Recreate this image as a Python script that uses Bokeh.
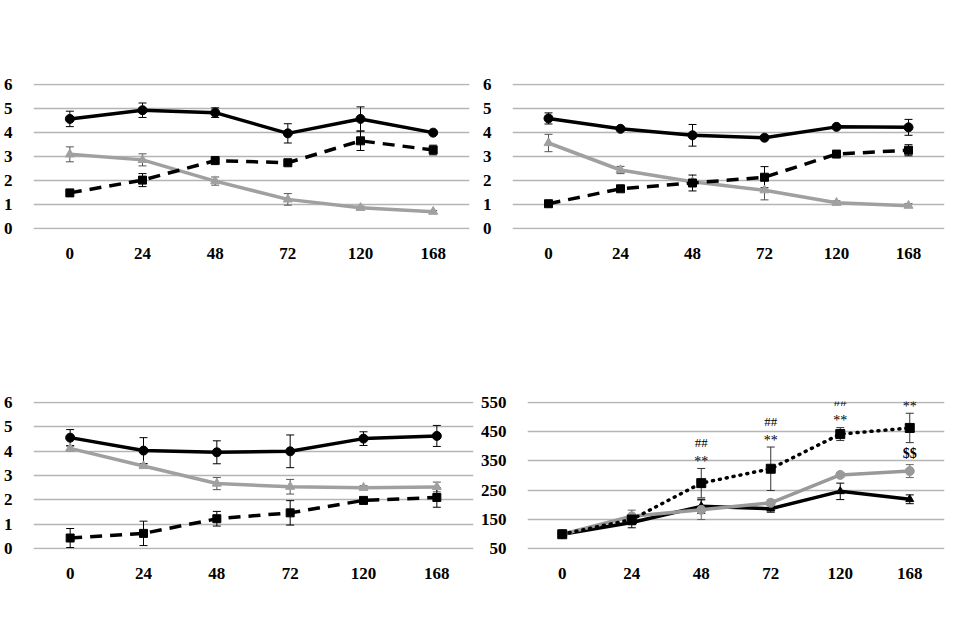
from bokeh.plotting import figure
from bokeh.models import (FactorRange, FixedTicker, Label, LabelSet, Legend, LegendItem,
                          Whisker, TeeHead, ColumnDataSource, Range1d)
from bokeh.layouts import column, row
from bokeh.embed import file_html
from bokeh.resources import INLINE

hours = ["0", "24", "48", "72", "120", "168"]
mass_ticks = [0, 1, 2, 3, 4, 5, 6]
rate_ticks = [50, 150, 250, 350, 450, 550]

# Panel A: PVL-70%
a_lek = [3.09, 2.86, 1.98, 1.22, 0.87, 0.71]
a_lek_err = [0.31, 0.25, 0.17, 0.24, 0.07, 0.05]
a_nem = [1.49, 2.02, 2.83, 2.74, 3.65, 3.27]
a_nem_err = [0.05, 0.27, 0.07, 0.07, 0.40, 0.20]
a_tel = [4.56, 4.92, 4.82, 3.96, 4.56, 3.99]
a_tel_err = [0.32, 0.30, 0.20, 0.40, 0.50, 0.05]

# Panel B: PVL-80%
b_lek = [3.56, 2.44, 1.95, 1.60, 1.08, 0.96]
b_lek_err = [0.36, 0.15, 0.10, 0.40, 0.08, 0.08]
b_nem = [1.04, 1.66, 1.90, 2.14, 3.10, 3.26]
b_nem_err = [0.05, 0.10, 0.33, 0.44, 0.05, 0.23]
b_tel = [4.58, 4.15, 3.88, 3.78, 4.23, 4.21]
b_tel_err = [0.23, 0.05, 0.45, 0.05, 0.07, 0.33]

# Panel C: PVL-90%
c_lek = [4.11, 3.39, 2.67, 2.54, 2.50, 2.53]
c_lek_err = [0.10, 0.08, 0.25, 0.30, 0.08, 0.20]
c_nem = [0.44, 0.63, 1.23, 1.47, 1.98, 2.10]
c_nem_err = [0.39, 0.50, 0.30, 0.50, 0.10, 0.40]
c_tel = [4.55, 4.02, 3.95, 3.99, 4.51, 4.62]
c_tel_err = [0.33, 0.53, 0.47, 0.67, 0.28, 0.43]

# Panel D: regeneration rate (%)
d_70 = [100, 140, 195, 187, 246, 219]
d_70_err = [3, 18, 24, 12, 28, 15]
d_80 = [100, 161, 183, 207, 302, 315]
d_80_err = [3, 21, 33, 10, 8, 22]
d_90 = [100, 150, 274, 323, 441, 462]
d_90_err = [3, 10, 50, 74, 22, 50]
sig_hours = ["48", "72", "120", "168"]
sig_stars = ["**", "**", "**", "**"]
sig_hash = ["##", "##", "##", "##"]
dollar_hours = ["168"]
dollar_text = ["$$"]

SERIF = "Liberation Serif"
GRAY = "#a0a0a0"
GRID = "#b5b5b5"


def base_fig(width, height, bl, br, bt, bb, y0, y1, ticks):
    p = figure(width=width, height=height, x_range=FactorRange(*hours),
               y_range=Range1d(y0, y1), output_backend="svg", toolbar_location=None,
               min_border_left=bl, min_border_right=br, min_border_top=bt,
               min_border_bottom=bb, outline_line_color=None)
    tk = FixedTicker(ticks=ticks)
    p.yaxis.ticker = tk
    p.ygrid.ticker = tk
    p.xgrid.grid_line_color = None
    p.ygrid.grid_line_color = GRID
    p.ygrid.grid_line_width = 1.5
    for ax in (p.xaxis, p.yaxis):
        ax.axis_line_color = None
        ax.major_tick_line_color = None
        ax.minor_tick_line_color = None
        ax.major_label_text_font = SERIF
        ax.major_label_text_font_style = "bold"
        ax.major_label_text_font_size = "17px"
        ax.major_label_text_color = "black"
    p.xaxis.major_label_standoff = 12
    p.yaxis.major_label_standoff = 15
    return p


def whisk(p, vals, errs, color):
    src = ColumnDataSource(dict(x=hours, up=[v + e for v, e in zip(vals, errs)],
                                lo=[v - e for v, e in zip(vals, errs)]))
    w = Whisker(source=src, base="x", upper="up", lower="lo", line_color=color, line_width=1,
                upper_head=TeeHead(size=8, line_color=color, line_width=1),
                lower_head=TeeHead(size=8, line_color=color, line_width=1))
    p.add_layout(w)


def txt(p, text, x, y, size, align="center", font=SERIF, style="bold"):
    p.add_layout(Label(x=x, y=y, x_units="screen", y_units="screen", text=text,
                       text_font=font, text_font_style=style, text_font_size=size,
                       text_align=align, text_baseline="middle", text_color="black"))


def mass_panel(width, height, bl, br, bt, bb, lek, lek_e, nem, nem_e, tel, tel_e,
               letter, title, geo):
    p = base_fig(width, height, bl, br, bt, bb, -0.03, 6.03, mass_ticks)
    whisk(p, lek, lek_e, "#555555")
    whisk(p, nem, nem_e, "black")
    whisk(p, tel, tel_e, "black")
    l1 = p.line(hours, lek, line_color=GRAY, line_width=3.5)
    m1 = p.scatter(hours, lek, marker="triangle", size=9, color=GRAY)
    l2 = p.line(hours, nem, line_color="black", line_width=3.5, line_dash="12 8")
    m2 = p.scatter(hours, nem, marker="square", size=8, color="black")
    l3 = p.line(hours, tel, line_color="black", line_width=3.5)
    m3 = p.scatter(hours, tel, marker="circle", size=9, color="black")
    lx, ly, tx, ty1, ty2, ox, oy, gx, gy = geo
    leg = Legend(items=[LegendItem(label="lekötött", renderers=[l1, m1]),
                        LegendItem(label="nem-lekötött", renderers=[l2, m2]),
                        LegendItem(label="teljes máj", renderers=[l3, m3])],
                 orientation="horizontal", location=(gx, gy), padding=0, margin=0,
                 spacing=18, glyph_width=34, glyph_height=18, label_standoff=3,
                 border_line_alpha=0, background_fill_alpha=0,
                 label_text_font=SERIF, label_text_font_style="bold",
                 label_text_font_size="17px")
    p.add_layout(leg)
    txt(p, letter, lx, ly, "16px", align="left")
    txt(p, title, tx, ty1, "21px")
    txt(p, "májtömeg (g) / 100 g testtömeg", tx, ty2, "21px")
    txt(p, "óra", ox, oy, "12px", align="left")
    return p


pA = mass_panel(470, 304, 30, 1, 83, 75, a_lek, a_lek_err, a_nem, a_nem_err, a_tel, a_tel_err,
                "A", "PVL-70%", (-26, 214, 209, 202, 175, 417, -21, 24, -65))
pB = mass_panel(476, 304, 42, 2, 83, 75, b_lek, b_lek_err, b_nem, b_nem_err, b_tel, b_tel_err,
                "B", "PVL-80%", (-27, 214, 210, 202, 175, 413, -21, 27, -65))
pC = mass_panel(476, 298, 29, 3, 97, 52, c_lek, c_lek_err, c_nem, c_nem_err, c_tel, c_tel_err,
                "C", "PVL-90%", (-25, 221, 205, 213, 186, 423, -20, 25, -55))

# Panel D
pD = base_fig(470, 298, 51, 2, 71, 53, 48, 552, rate_ticks)
whisk(pD, d_80, d_80_err, "#666666")
whisk(pD, d_70, d_70_err, "black")
whisk(pD, d_90, d_90_err, "#333333")
k1 = pD.line(hours, d_70, line_color="black", line_width=3.5)
s1 = pD.scatter(hours, d_70, marker="triangle", size=8, color="black")
k2 = pD.line(hours, d_80, line_color="#999999", line_width=3.5)
s2 = pD.scatter(hours, d_80, marker="circle", size=9, color="#999999")
k3 = pD.line(hours, d_90, line_color="black", line_width=3.5, line_dash="1 6", line_cap="round")
s3 = pD.scatter(hours, d_90, marker="square", size=9, color="black")
legD = Legend(items=[LegendItem(label="PVL-70%", renderers=[k1, s1]),
                     LegendItem(label="PVL-80%", renderers=[k2, s2]),
                     LegendItem(label="PVL-90%", renderers=[k3, s3])],
              orientation="horizontal", location=(12, -56), padding=0, margin=0,
              spacing=18, glyph_width=32, glyph_height=18, label_standoff=3,
              border_line_alpha=0, background_fill_alpha=0,
              label_text_font=SERIF, label_text_font_style="bold",
              label_text_font_size="17px")
pD.add_layout(legD)

top90 = {h: v + e for h, v, e in zip(hours, d_90, d_90_err)}
top80 = {h: v + e for h, v, e in zip(hours, d_80, d_80_err)}
sig_src = ColumnDataSource(dict(x=sig_hours, y=[top90[h] for h in sig_hours],
                                s=sig_stars, h=sig_hash))
pD.add_layout(LabelSet(x="x", y="y", text="s", source=sig_src, y_offset=7,
                       text_align="center", text_baseline="middle", text_font=SERIF,
                       text_font_size="14px", text_color="black"))
pD.add_layout(LabelSet(x="x", y="y", text="h", source=sig_src, y_offset=26,
                       text_align="center", text_baseline="middle", text_font=SERIF,
                       text_font_size="13px", text_color="black"))
dol_src = ColumnDataSource(dict(x=dollar_hours, y=[top80[h] for h in dollar_hours],
                                t=dollar_text))
pD.add_layout(LabelSet(x="x", y="y", text="t", source=dol_src, y_offset=11,
                       text_align="center", text_baseline="middle", text_font=SERIF,
                       text_font_style="bold", text_font_size="14px", text_color="black"))
txt(pD, "D", -42, 220, "16px", align="left")
txt(pD, "Regenerációs ráta (%)", 197, 214, "19px", font="Lato")
txt(pD, "óra", 399, -21, "12px", align="left")

layout = column(row(pA, pB), row(pC, pD))
open("out.html", "w").write(file_html(layout, INLINE))
